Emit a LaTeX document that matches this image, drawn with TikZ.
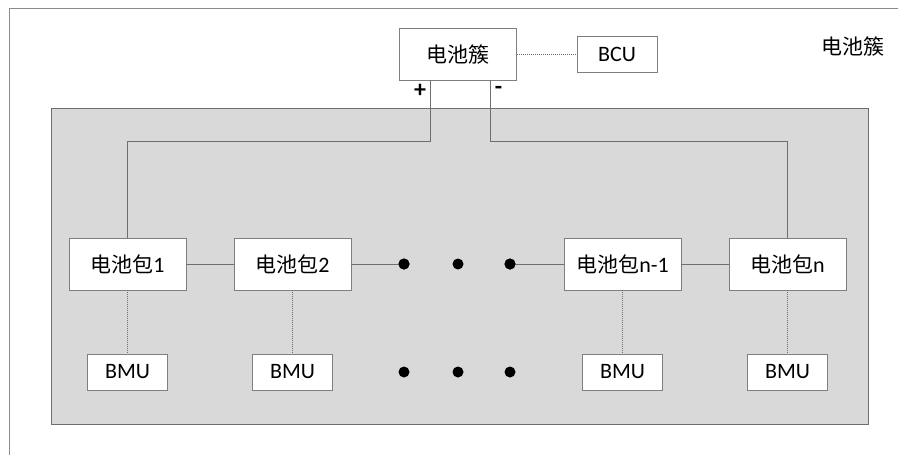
\documentclass[tikz,border=0pt]{standalone}
\usepackage{fontspec}
\setmainfont{Carlito}
\newfontfamily\cjk{Noto Sans CJK SC}
\usetikzlibrary{calc}
\definecolor{linegray}{HTML}{6E6E6E}
\definecolor{boxgray}{HTML}{7F7F7F}
\definecolor{panelgray}{HTML}{D9D9D9}
\definecolor{framegray}{HTML}{8C8C8C}
\newcommand{\cjktext}[1]{{\fontsize{21}{24}\selectfont\cjk #1}}
\begin{document}
\begin{tikzpicture}[x=1pt,y=-1pt,
  box/.style={draw=boxgray, fill=white, line width=0.8pt, inner sep=0pt,
    minimum width=117pt, minimum height=52pt, font=\fontsize{22}{26}\selectfont},
  smallbox/.style={draw=boxgray, fill=white, line width=0.8pt, inner sep=0pt,
    minimum width=80pt, minimum height=36pt, font=\fontsize{22}{26}\selectfont},
  bigdot/.style={circle, fill=black, minimum size=11pt, inner sep=0pt},
  wire/.style={draw=linegray, line width=0.8pt},
  signal/.style={draw=linegray, line width=0.6pt, dash pattern=on 1pt off 1pt},
  sign/.style={font=\fontsize{24}{26}\selectfont\bfseries, inner sep=0pt}]
\useasboundingbox (0,0) rectangle (898,455);
\fill[white] (0,0) rectangle (898,455);
% outer frame (only top and left edges visible)
\draw[framegray, line width=0.8pt] (9.5,455) -- (9.5,8) -- (898,8);
% grey panel
\node[draw=linegray, fill=panelgray, line width=0.8pt, inner sep=0pt,
  minimum width=817pt, minimum height=316pt] (panel) at (459.5,266) {};
% top nodes
\node[box] (cluster) at (458,54) {\cjktext{电池簇}};
\node[smallbox] (bcu) at (617,54) {BCU};
\node[inner sep=0pt] (title) at (853,46) {\cjktext{电池簇}};
% packs
\node[box] (p1) at (127.5,264) {\cjktext{电池包}1};
\node[box] (p2) at (292.5,264) {\cjktext{电池包}2};
\node[box] (pn1) at (622.5,264) {\cjktext{电池包}n-1};
\node[box] (pn) at (787.5,264) {\cjktext{电池包}n};
% BMUs
\node[smallbox] (b1) at (127.5,372) {BMU};
\node[smallbox] (b2) at (292.5,372) {BMU};
\node[smallbox] (b3) at (622.5,372) {BMU};
\node[smallbox] (b4) at (787.5,372) {BMU};
% dots
\node[bigdot] (d1) at (404,264) {};
\node[bigdot] (d2) at (458,264) {};
\node[bigdot] (d3) at (510,264) {};
\node[bigdot] (e1) at (404,372) {};
\node[bigdot] (e2) at (458,372) {};
\node[bigdot] (e3) at (510,372) {};
% signs
\node[sign] (plus) at (420,90.5) {+};
\node[sign] (minus) at (498.5,90) {-};
% connectors
\coordinate (busy) at (0,141);
\draw[signal] (cluster.east) -- (bcu.west);
\draw[wire] ([xshift=-28pt]cluster.south) |- (p1.north |- busy) -- (p1.north);
\draw[wire] ([xshift=32pt]cluster.south) |- (pn.north |- busy) -- (pn.north);
\draw[wire] (p1.east) -- (p2.west);
\draw[wire] (p2.east) -- (d1.center);
\draw[wire] (d3.center) -- (pn1.west);
\draw[wire] (pn1.east) -- (pn.west);
\draw[signal] (p1.south) -- (b1.north);
\draw[signal] (p2.south) -- (b2.north);
\draw[signal] (pn1.south) -- (b3.north);
\draw[signal] (pn.south) -- (b4.north);
\node[bigdot] at (d1) {};
\node[bigdot] at (d3) {};
\end{tikzpicture}
\end{document}
